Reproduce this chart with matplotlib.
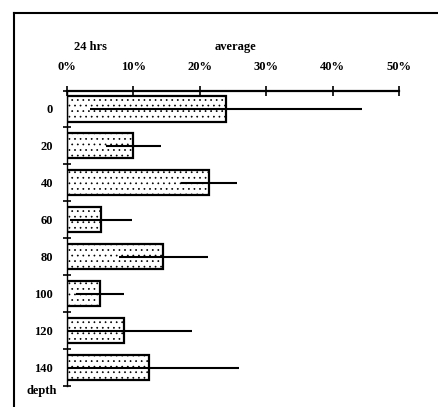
import numpy as np
import matplotlib.pyplot as plt
from matplotlib.lines import Line2D

# Data
depths = ["0", "20", "40", "60", "80", "100", "120", "140"]
average = [23.9, 10.0, 21.4, 5.1, 14.5, 5.0, 8.6, 12.4]   # percent
spread = [20.5, 4.2, 4.2, 4.7, 6.7, 3.6, 10.2, 13.5]      # percent, +/- half-width
x_ticks = [0, 10, 20, 30, 40, 50]
x_labels = ["0%", "10%", "20%", "30%", "40%", "50%"]

plt.rcParams['hatch.linewidth'] = 0.5
font = {'family': 'Liberation Serif', 'weight': 'bold', 'size': 9}

fig = plt.figure(figsize=(4.39, 4.07), dpi=100)
ax = fig.add_axes([67 / 439, 1 - 386 / 407, 332 / 439, 295.5 / 407])

pos = np.arange(len(depths))
ax.barh(pos, average, height=0.68, color='white', edgecolor='black',
        linewidth=1.6, hatch='...', zorder=2)
ax.errorbar(average, pos, xerr=spread, fmt='none', ecolor='black',
            elinewidth=1.5, capsize=0, zorder=3)

ax.set_xlim(0, 50)
ax.set_ylim(len(depths) - 0.5, -0.5)

# x axis along the top
ax.xaxis.tick_top()
ax.set_xticks(x_ticks)
ax.set_xticklabels(x_labels, fontdict=font)
ax.tick_params(axis='x', direction='inout', length=7, width=1.2, pad=9)

# category labels, with small marks between the bars
ax.set_yticks(pos)
ax.set_yticklabels(depths, fontdict=font)
ax.tick_params(axis='y', length=0, pad=10)
ax.set_yticks(np.arange(len(depths) + 1) - 0.5, minor=True)
ax.tick_params(axis='y', which='minor', direction='inout', length=6, width=1.2)

for side in ['right', 'bottom']:
    ax.spines[side].set_visible(False)
ax.spines['top'].set_linewidth(1.6)
ax.spines['left'].set_linewidth(1.0)

fig.text(90 / 439, 1 - 47 / 407, "24 hrs", ha='center', va='center', **font)
fig.text(236 / 439, 1 - 47 / 407, "average", ha='center', va='center', **font)
fig.text(42 / 439, 1 - 391 / 407, "depth", ha='center', va='center', **font)

# outer frame of the scanned page
fig.add_artist(Line2D([14 / 439, 1], [1 - 13 / 407, 1 - 13 / 407], color='black', lw=1.5))
fig.add_artist(Line2D([14 / 439, 14 / 439], [0, 1 - 13 / 407], color='black', lw=1.5))

fig.savefig("out.png", dpi=100)
